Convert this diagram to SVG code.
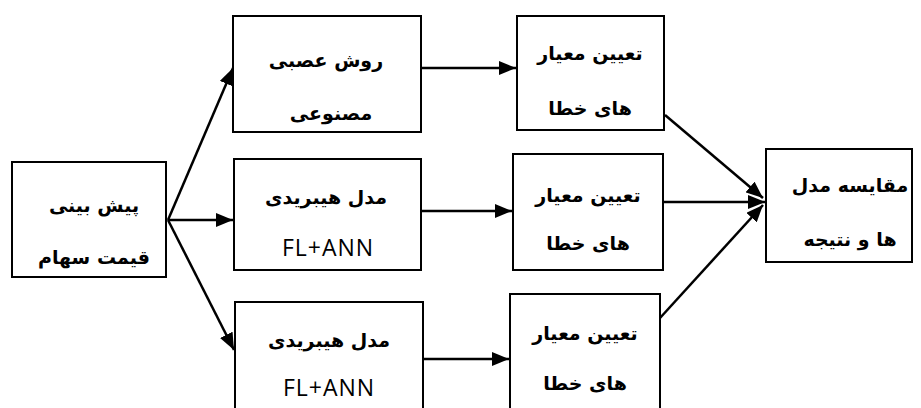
<svg xmlns="http://www.w3.org/2000/svg" width="921" height="408" viewBox="0 0 921 408">
<defs>
<marker id="ah" markerUnits="userSpaceOnUse" markerWidth="18" markerHeight="14" refX="17" refY="7" orient="auto">
<path d="M0,0 L17,7 L0,14 z" fill="#000"/>
</marker>
<style>
.box{fill:#fff;stroke:#000;stroke-width:2}
.fa{font-family:"DejaVu Sans",sans-serif;font-weight:bold;font-size:19px;text-anchor:middle;direction:rtl;fill:#000}
.en{font-family:"Open Sans",sans-serif;font-size:23px;text-anchor:middle;letter-spacing:1px;fill:#000}
.ar{stroke:#000;stroke-width:2.5;fill:none;marker-end:url(#ah)}
</style>
</defs>
<rect width="921" height="408" fill="#fff"/>
<g id="connectors">
<line class="ar" x1="168" y1="220" x2="233" y2="68"/>
<line class="ar" x1="168" y1="220" x2="233" y2="220"/>
<line class="ar" x1="168" y1="220" x2="234" y2="350"/>
<line class="ar" x1="422" y1="68" x2="516" y2="68"/>
<line class="ar" x1="421" y1="211" x2="512" y2="211"/>
<line class="ar" x1="421" y1="359" x2="509" y2="359"/>
<line class="ar" x1="665" y1="115" x2="763" y2="198"/>
<line class="ar" x1="659" y1="202" x2="765" y2="202"/>
<line class="ar" x1="660" y1="318" x2="763" y2="205"/>
</g>
<g id="n-predict">
<rect class="box" x="12" y="162" width="154" height="115"/>
<text class="fa" x="94" y="212">پیش بینی</text>
<text class="fa" x="94" y="264">قیمت سهام</text>
</g>
<g id="n-ann">
<rect class="box" x="233" y="16" width="188" height="116"/>
<text class="fa" x="326" y="67">روش عصبی</text>
<text class="fa" x="331" y="120">مصنوعی</text>
</g>
<g id="n-hybrid1">
<rect class="box" x="234" y="159" width="187" height="111"/>
<text class="fa" x="326" y="204">مدل هیبریدی</text>
<text class="en" x="328" y="256">FL+ANN</text>
</g>
<g id="n-hybrid2">
<rect class="box" x="235" y="302" width="188" height="110"/>
<text class="fa" x="329" y="347">مدل هیبریدی</text>
<text class="en" x="329" y="396">FL+ANN</text>
</g>
<g id="n-err1">
<rect class="box" x="517" y="16" width="147" height="114"/>
<text class="fa" x="590" y="60">تعیین معیار</text>
<text class="fa" x="590" y="115">های خطا</text>
</g>
<g id="n-err2">
<rect class="box" x="513" y="154" width="150" height="116"/>
<text class="fa" x="588" y="202">تعیین معیار</text>
<text class="fa" x="588" y="250">های خطا</text>
</g>
<g id="n-err3">
<rect class="box" x="510" y="294" width="150" height="118"/>
<text class="fa" x="585" y="340">تعیین معیار</text>
<text class="fa" x="585" y="390">های خطا</text>
</g>
<g id="n-compare">
<rect class="box" x="766" y="149" width="146" height="113"/>
<text class="fa" x="850" y="192">مقایسه مدل</text>
<text class="fa" x="850" y="246">ها و نتیجه</text>
</g>
</svg>
